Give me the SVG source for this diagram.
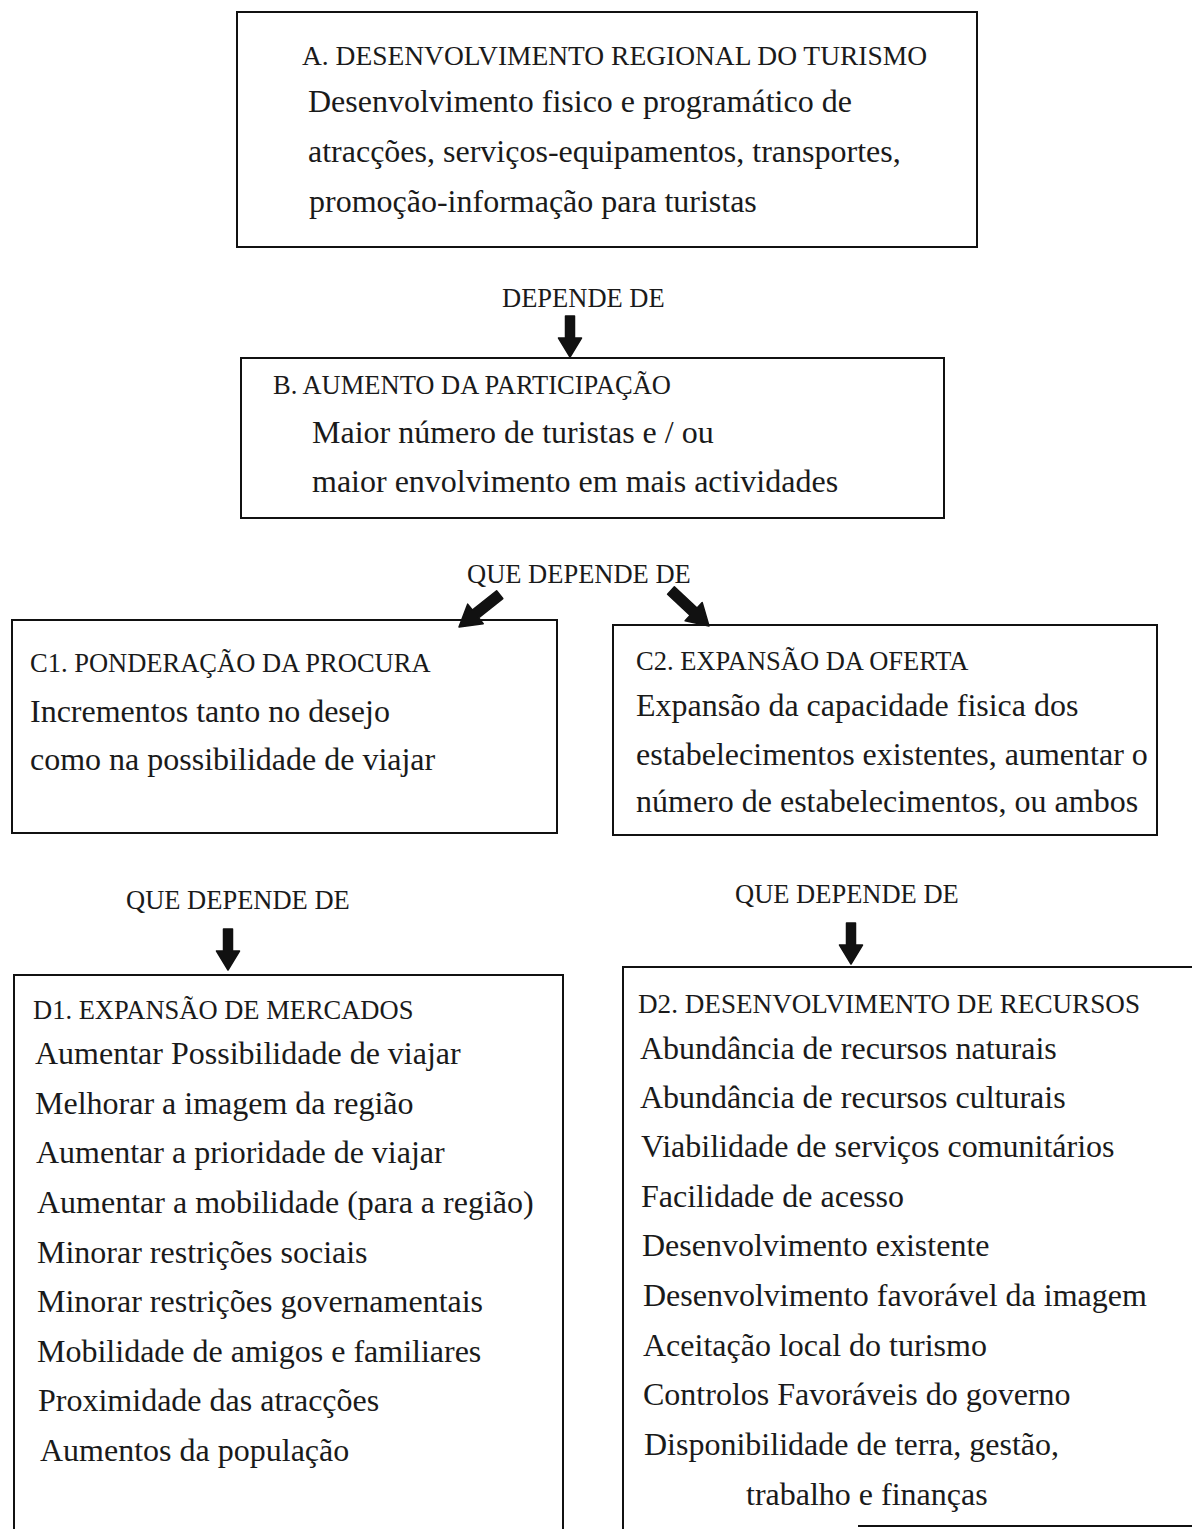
<svg xmlns="http://www.w3.org/2000/svg" width="1192" height="1529" viewBox="0 0 1192 1529">
<style>
text{font-family:"Liberation Serif","Times New Roman",serif;fill:#1a1a1a}
.h{font-size:26.5px}
.b{font-size:32px}
.box{fill:none;stroke:#111;stroke-width:2}
.arr{fill:#111;stroke:#111;stroke-width:1.5;stroke-linejoin:round}
</style>
<defs>
<path id="av" d="M-4.5,-41 L4.5,-41 L4.5,-19 L11.5,-19 L0,0 L-11.5,-19 L-4.5,-19 Z"/>
<path id="ad" d="M-5,-52 L5,-52 L5,-21 L12.5,-21 L0,0 L-12.5,-21 L-5,-21 Z"/>
</defs>
<rect width="1192" height="1529" fill="#ffffff"/>
<g id="A">
<rect class="box" x="237" y="12" width="740" height="235"/>
<text class="h" x="302" y="65" textLength="625" lengthAdjust="spacingAndGlyphs">A. DESENVOLVIMENTO REGIONAL DO TURISMO</text>
<text class="b" x="308" y="112">Desenvolvimento fisico e programático de</text>
<text class="b" x="308" y="162">atracções, serviços-equipamentos, transportes,</text>
<text class="b" x="309" y="212">promoção-informação para turistas</text>
</g>
<g id="B">
<rect class="box" x="241" y="358" width="703" height="160"/>
<text class="h" x="273" y="394">B. AUMENTO DA PARTICIPAÇÃO</text>
<text class="b" x="312" y="443">Maior número de turistas e / ou</text>
<text class="b" x="312" y="492">maior envolvimento em mais actividades</text>
</g>
<g id="C1">
<rect class="box" x="12" y="620" width="545" height="213"/>
<text class="h" x="30" y="672">C1. PONDERAÇÃO DA PROCURA</text>
<text class="b" x="30" y="722">Incrementos tanto no desejo</text>
<text class="b" x="30" y="770">como na possibilidade de viajar</text>
</g>
<g id="C2">
<rect class="box" x="613" y="625" width="544" height="210"/>
<text class="h" x="636" y="670">C2. EXPANSÃO DA OFERTA</text>
<text class="b" x="636" y="716">Expansão da capacidade fisica dos</text>
<text class="b" x="636" y="765">estabelecimentos existentes, aumentar o</text>
<text class="b" x="636" y="812">número de estabelecimentos, ou ambos</text>
</g>
<g id="D1">
<path class="box" d="M14,1529 L14,975 L563,975 L563,1529"/>
<text class="h" x="33" y="1019">D1. EXPANSÃO DE MERCADOS</text>
<text class="b" x="35" y="1064">Aumentar Possibilidade de viajar</text>
<text class="b" x="35" y="1114">Melhorar a imagem da região</text>
<text class="b" x="36" y="1163">Aumentar a prioridade de viajar</text>
<text class="b" x="37" y="1213">Aumentar a mobilidade (para a região)</text>
<text class="b" x="37" y="1263">Minorar restrições sociais</text>
<text class="b" x="37" y="1312">Minorar restrições governamentais</text>
<text class="b" x="37" y="1362">Mobilidade de amigos e familiares</text>
<text class="b" x="38" y="1411">Proximidade das atracções</text>
<text class="b" x="40" y="1461">Aumentos da população</text>
</g>
<g id="D2">
<path class="box" d="M1192,967 L623,967 L623,1529"/>
<path class="box" d="M858,1526 L1192,1526"/>
<text class="h" x="638" y="1013" textLength="502" lengthAdjust="spacingAndGlyphs">D2. DESENVOLVIMENTO DE RECURSOS</text>
<text class="b" x="640" y="1059">Abundância de recursos naturais</text>
<text class="b" x="640" y="1108">Abundância de recursos culturais</text>
<text class="b" x="641" y="1157">Viabilidade de serviços comunitários</text>
<text class="b" x="641" y="1207">Facilidade de acesso</text>
<text class="b" x="642" y="1256">Desenvolvimento existente</text>
<text class="b" x="643" y="1306">Desenvolvimento favorável da imagem</text>
<text class="b" x="643" y="1356">Aceitação local do turismo</text>
<text class="b" x="643" y="1405">Controlos Favoráveis do governo</text>
<text class="b" x="644" y="1455">Disponibilidade de terra, gestão,</text>
<text class="b" x="746" y="1505">trabalho e finanças</text>
</g>
<g id="connectors">
<text class="h" x="502" y="307">DEPENDE DE</text>
<use href="#av" class="arr" transform="translate(570,357)"/>
<text class="h" x="467" y="583">QUE DEPENDE DE</text>
<use href="#ad" class="arr" transform="translate(459,627) rotate(51.5)"/>
<use href="#ad" class="arr" transform="translate(709,626) rotate(-47)"/>
<text class="h" x="126" y="909">QUE DEPENDE DE</text>
<use href="#av" class="arr" transform="translate(228,970)"/>
<text class="h" x="735" y="903">QUE DEPENDE DE</text>
<use href="#av" class="arr" transform="translate(851,964)"/>
</g>
</svg>
